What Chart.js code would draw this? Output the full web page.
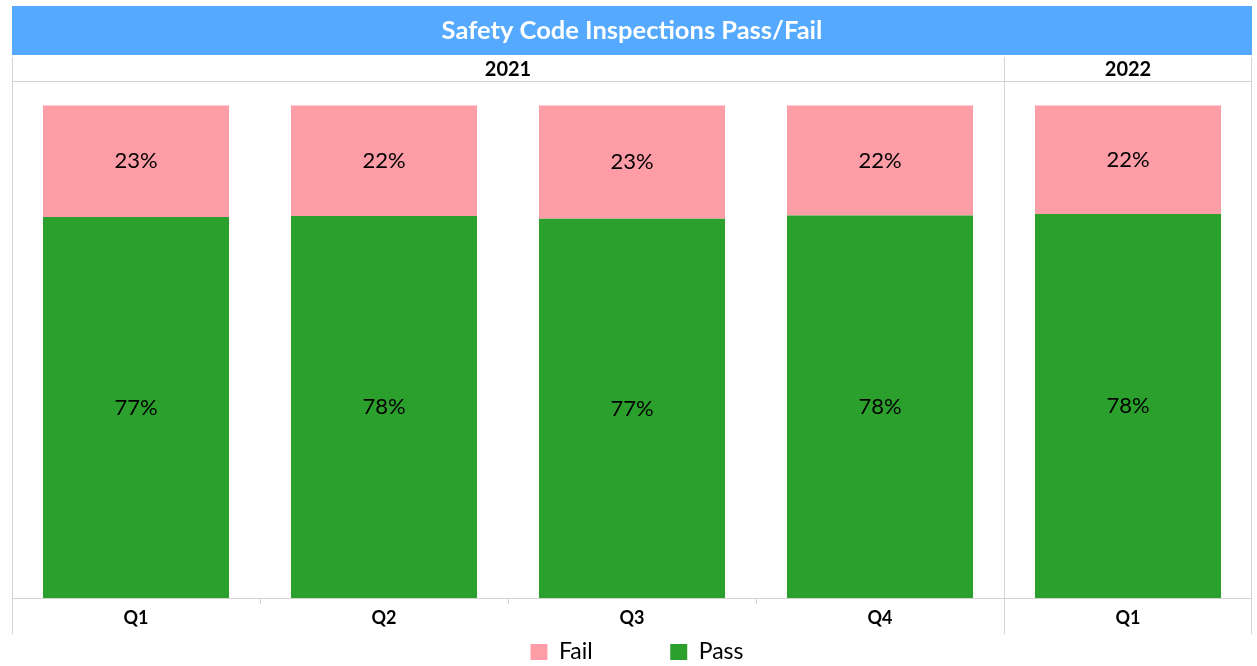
<!DOCTYPE html>
<html><head><meta charset="utf-8">
<script src="https://cdn.jsdelivr.net/npm/chart.js@4"></script>
<style>html,body{margin:0;padding:0;background:#fff;overflow:hidden}</style>
</head><body>
<canvas id="c" width="1257" height="666"></canvas>
<script>
const categories = ['Q1', 'Q2', 'Q3', 'Q4', 'Q1'];
const years = ['2021', '2021', '2021', '2021', '2022'];
const passPct = [77.4, 77.6, 77.0, 77.7, 78.0];
const failPct = [22.6, 22.4, 23.0, 22.3, 22.0];
const titleText = 'Safety Code Inspections Pass/Fail';

const FONT = 'Lato';
const LINE = '#d2d2d2';

const framePlugin = {
  id: 'frame',
  beforeDraw(chart) {
    const {ctx, chartArea: a} = chart;
    ctx.save();
    ctx.fillStyle = '#55AAFF';
    ctx.fillRect(a.left, 6, a.right - a.left, 49);
    ctx.restore();
  },
  beforeDatasetsDraw(chart) {
    const {ctx, chartArea: a, scales: {x}} = chart;
    const headTop = a.top - 24;
    const axisBottom = x.bottom;
    ctx.save();
    ctx.strokeStyle = LINE;
    ctx.lineWidth = 1;
    const vline = (px, y0, y1) => { ctx.beginPath(); ctx.moveTo(Math.round(px) + 0.5, y0); ctx.lineTo(Math.round(px) + 0.5, y1); ctx.stroke(); };
    const hline = (py, x0, x1) => { ctx.beginPath(); ctx.moveTo(x0, Math.round(py) + 0.5); ctx.lineTo(x1, Math.round(py) + 0.5); ctx.stroke(); };
    hline(a.top, a.left, a.right);
    hline(a.bottom, a.left, a.right);
    const half = (x.getPixelForValue(1) - x.getPixelForValue(0)) / 2;
    const groups = [];
    years.forEach((y, i) => {
      if (!groups.length || groups[groups.length - 1].label !== y) groups.push({label: y, start: i, end: i});
      else groups[groups.length - 1].end = i;
    });
    vline(a.left, headTop, axisBottom);
    vline(a.right - 1, headTop, axisBottom);
    groups.forEach((g, gi) => {
      if (gi > 0) vline(x.getPixelForValue(g.start) - half, headTop, axisBottom);
    });
    for (let i = 1; i < categories.length; i++) {
      if (years[i] === years[i - 1]) vline(x.getPixelForValue(i) - half, a.bottom, a.bottom + 6);
    }
    ctx.fillStyle = '#000';
    ctx.font = 'bold 20px ' + FONT;
    ctx.textAlign = 'center';
    ctx.textBaseline = 'middle';
    groups.forEach(g => {
      const cx = (x.getPixelForValue(g.start) - half + x.getPixelForValue(g.end) + half) / 2;
      ctx.fillText(g.label, cx, a.top - 11);
    });
    ctx.restore();
  },
  afterDatasetsDraw(chart) {
    const {ctx} = chart;
    ctx.save();
    ctx.fillStyle = '#000';
    ctx.font = '22px ' + FONT;
    ctx.textAlign = 'center';
    ctx.textBaseline = 'middle';
    chart.data.datasets.forEach((ds, di) => {
      chart.getDatasetMeta(di).data.forEach((el, i) => {
        ctx.fillText(Math.round(ds.data[i]) + '%', el.x, (el.y + el.base) / 2);
      });
    });
    ctx.restore();
  },
  afterLayout(chart) {
    const lg = chart.legend;
    if (lg) {
      lg.top = lg.top + 6.5 - lg.options.labels.padding;
      lg.left += 5;
      lg.right += 5;
    }
  }
};

new Chart(document.getElementById('c'), {
  type: 'bar',
  data: {
    labels: categories,
    datasets: [
      {label: 'Pass', data: passPct, backgroundColor: '#2CA02C', barPercentage: 0.75, categoryPercentage: 1.0},
      {label: 'Fail', data: failPct, backgroundColor: '#FF9DA7', barPercentage: 0.75, categoryPercentage: 1.0}
    ]
  },
  options: {
    responsive: false,
    animation: false,
    layout: {padding: {left: 12, right: 5, top: 0, bottom: 0}},
    scales: {
      x: {
        stacked: true,
        grid: {display: false, drawTicks: false},
        border: {display: false},
        ticks: {color: '#000', font: {family: FONT, size: 18, weight: 'bold'}, padding: 9, maxRotation: 0, autoSkip: false},
        afterFit(s) { s.height = 36; }
      },
      y: {stacked: true, display: false, min: 0, max: 105}
    },
    plugins: {
      title: {
        display: true, text: titleText, color: '#fff',
        font: {family: FONT, size: 25.5, weight: 'bold'},
        padding: {top: 15.9, bottom: 34.5}
      },
      legend: {
        position: 'bottom',
        maxHeight: 32,
        labels: {
          color: '#000', font: {family: FONT, size: 23},
          boxWidth: 17, boxHeight: 16, padding: 77.5,
          sort: (a, b) => b.datasetIndex - a.datasetIndex
        }
      },
      tooltip: {enabled: false}
    }
  },
  plugins: [framePlugin]
});
</script>
</body></html>
